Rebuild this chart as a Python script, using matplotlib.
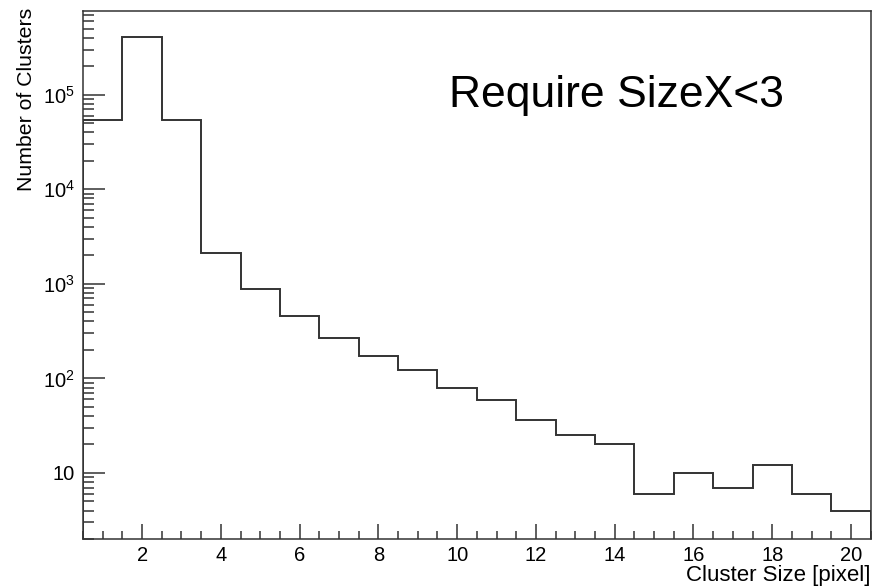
import numpy as np
import matplotlib.pyplot as plt
from matplotlib.ticker import FixedLocator, MultipleLocator, LogLocator, NullFormatter

plt.rcParams['font.family'] = ['Liberation Sans', 'DejaVu Sans']
plt.rcParams['mathtext.fontset'] = 'custom'
plt.rcParams['mathtext.rm'] = 'Liberation Sans'
plt.rcParams['mathtext.it'] = 'Liberation Sans'

# cluster size histogram, bins centred on 1..20
bin_edges = np.arange(0.5, 21.0, 1.0)
counts = [54000, 410000, 54000, 2100, 890, 455, 266, 173, 123, 80,
          59, 36, 25, 20, 6, 10, 7, 12, 6, 4]

ytick_vals = [10, 1e2, 1e3, 1e4, 1e5]
ytick_labels = ['10', '$10^2$', '$10^3$', '$10^4$', '$10^5$']

fig = plt.figure(figsize=(8.88, 5.87), dpi=100)
ax = fig.add_axes([0.0935, 0.0818, 0.887, 0.8995])

ax.stairs(counts, bin_edges, color='#333333', linewidth=1.4)

ax.set_yscale('log')
ax.set_xlim(0.5, 20.5)
ax.set_ylim(2, 7.7e5)

ax.xaxis.set_major_locator(MultipleLocator(2))
ax.xaxis.set_minor_locator(MultipleLocator(0.5))
ax.yaxis.set_major_locator(FixedLocator(ytick_vals))
ax.set_yticklabels(ytick_labels)
ax.yaxis.set_minor_locator(LogLocator(base=10, subs=np.arange(2, 10)))
ax.yaxis.set_minor_formatter(NullFormatter())

ax.tick_params(axis='both', which='both', direction='in', top=False, right=False,
               labelsize=14.5, width=1.1, color='#333333')
ax.tick_params(axis='y', which='major', length=16, pad=6)
ax.tick_params(axis='y', which='minor', length=8)
ax.tick_params(axis='x', which='major', length=11, pad=5)
ax.tick_params(axis='x', which='minor', length=5.5)

for s in ax.spines.values():
    s.set_linewidth(1.1)
    s.set_color('#333333')

# axis titles placed like ROOT: right / top aligned
fig.text(870 / 888, 6 / 587, 'Cluster Size [pixel]', fontsize=16,
         ha='right', va='baseline')
fig.text(27 / 888, 1 - 8 / 587, 'Number of Clusters', fontsize=15.3,
         rotation=90, ha='center', va='top')

ax.text(0.677, 0.84, 'Require SizeX<3', transform=ax.transAxes,
        fontsize=32, ha='center', va='center')

plt.savefig('out.png', dpi=100)
